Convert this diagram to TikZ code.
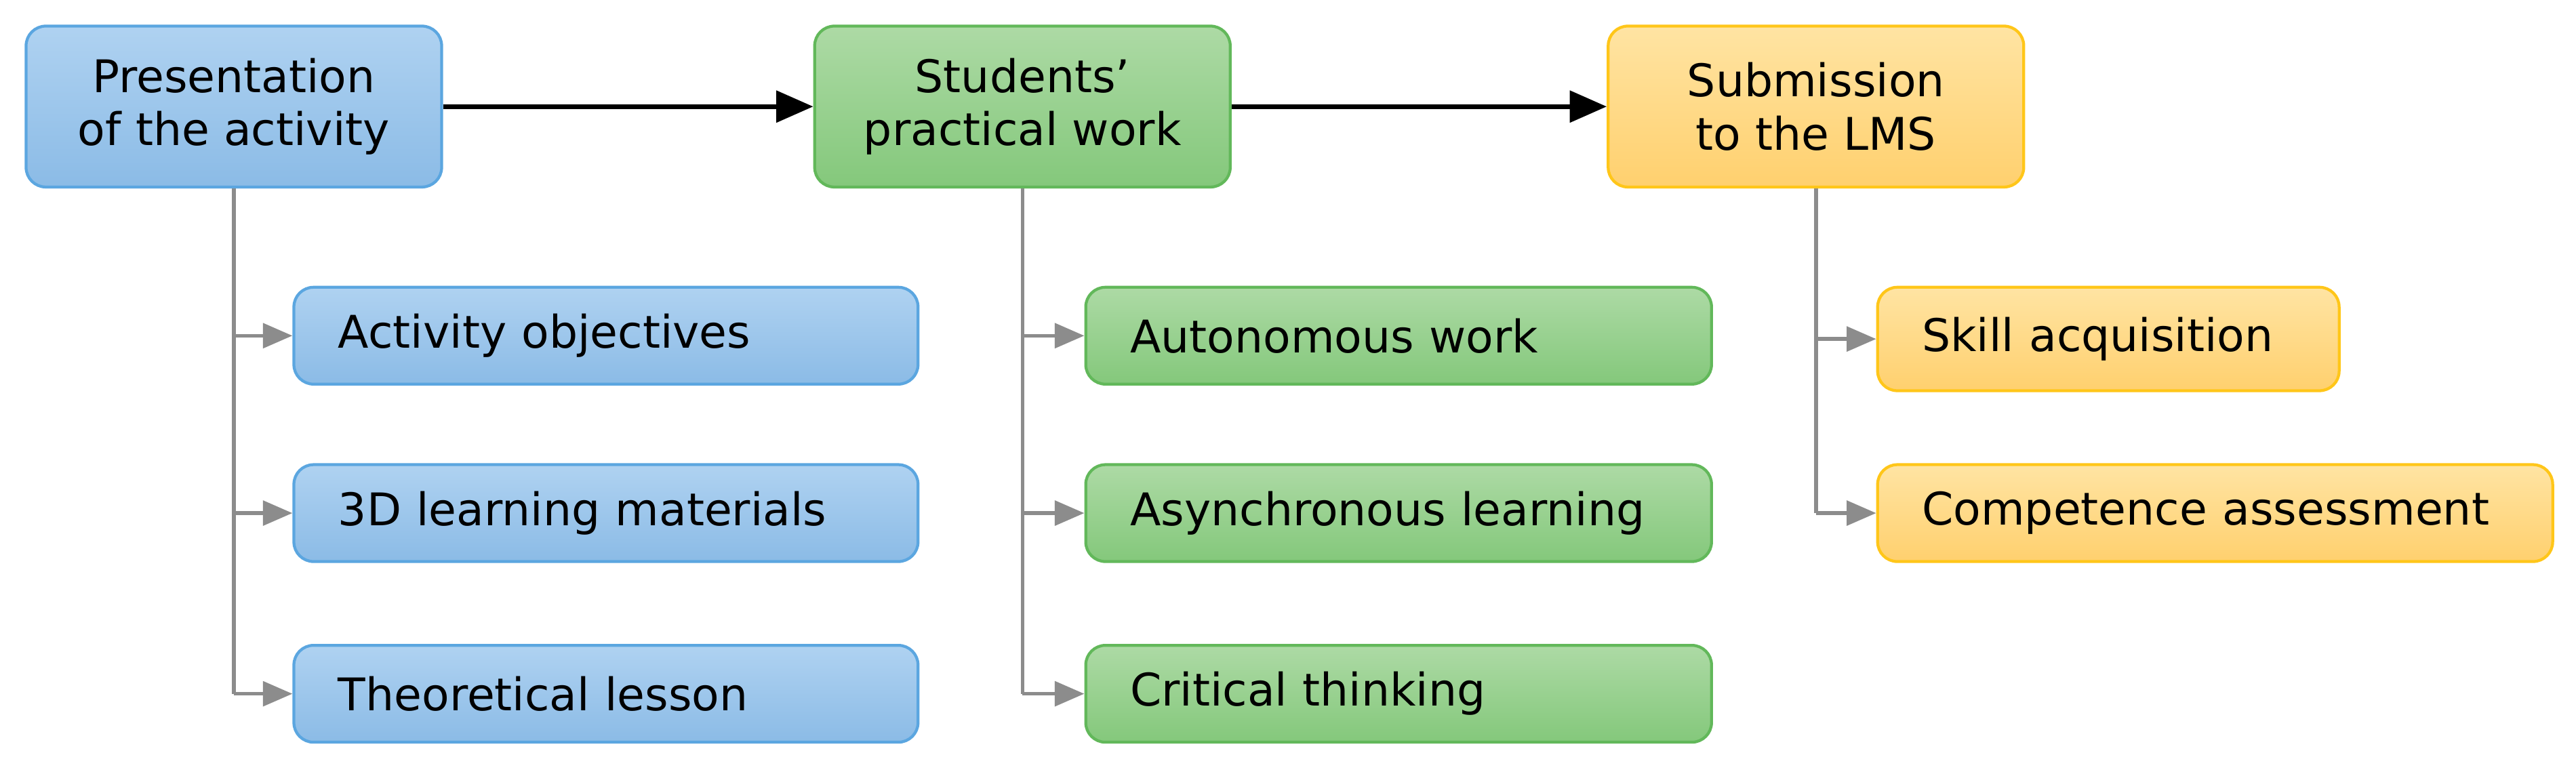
\documentclass[tikz,border=0pt]{standalone}
\usepackage{fontspec}
\setmainfont{DejaVu Sans}
\usetikzlibrary{arrows.meta}
\definecolor{bT}{HTML}{AFD2F1}\definecolor{bB}{HTML}{8BBBE6}\definecolor{bD}{HTML}{5BA6E0}
\definecolor{gT}{HTML}{ADDAA5}\definecolor{gB}{HTML}{84C87B}\definecolor{gD}{HTML}{62B85A}
\definecolor{oT}{HTML}{FFE4A3}\definecolor{oB}{HTML}{FFD06E}\definecolor{oD}{HTML}{FFC619}
\definecolor{ln}{HTML}{8C8C8C}
\begin{document}
\begin{tikzpicture}[x=0.02cm,y=-0.02cm,
 base/.style={rectangle,rounded corners=0.24cm,line width=1pt,anchor=north west,font=\fontsize{15.6}{18.5}\selectfont},
 top/.style={base,minimum width=5.06cm,minimum height=1.96cm,align=center},
 sub/.style={base,minimum height=1.18cm,inner xsep=0.54cm,text width=#1,align=left},
 blue/.style={draw=bD,top color=bT,bottom color=bB},
 green/.style={draw=gD,top color=gT,bottom color=gB},
 orange/.style={draw=oD,top color=oT,bottom color=oB},
 main/.style={line width=1.6pt,-{Triangle[length=0.45cm,width=0.38cm]}},
 br/.style={ln,line width=1.3pt,-{Triangle[length=0.36cm,width=0.3cm]}}]
\useasboundingbox[fill=white] (0,0) rectangle (1568,471);
\node[top,blue] (t1) at (15,15) {Presentation\\of the activity};
\node[top,green] (t2) at (495,15) {Students'\\practical work};
\node[top,orange] (t3) at (978,15) {Submission\\to the LMS};
\node[sub=6.52cm,blue] (b1) at (178,174) {Activity objectives};
\node[sub=6.52cm,blue] (b2) at (178,282) {3D learning materials};
\node[sub=6.52cm,blue] (b3) at (178,392) {Theoretical lesson};
\node[sub=6.54cm,green] (g1) at (660,174) {Autonomous work};
\node[sub=6.54cm,green] (g2) at (660,282) {Asynchronous learning};
\node[sub=6.54cm,green] (g3) at (660,392) {Critical thinking};
\node[sub=4.54cm,orange,minimum height=1.26cm] (o1) at (1142,174) {Skill acquisition};
\node[sub=7.14cm,orange] (o2) at (1142,282) {Competence assessment};
\draw[main] (t1) -- (t2);
\draw[main] (t2) -- (t3);
\draw[ln,line width=1.3pt] (t1.south) -- (t1.south |- b3.west);
\draw[ln,line width=1.3pt] (t2.south) -- (t2.south |- g3.west);
\draw[ln,line width=1.3pt] (t3.south) -- (t3.south |- o2.west);
\foreach \t/\c in {t1/b1,t1/b2,t1/b3,t2/g1,t2/g2,t2/g3,t3/o1,t3/o2}
  \draw[br] (\t.south |- \c.west) -- (\c.west);
\end{tikzpicture}
\end{document}
